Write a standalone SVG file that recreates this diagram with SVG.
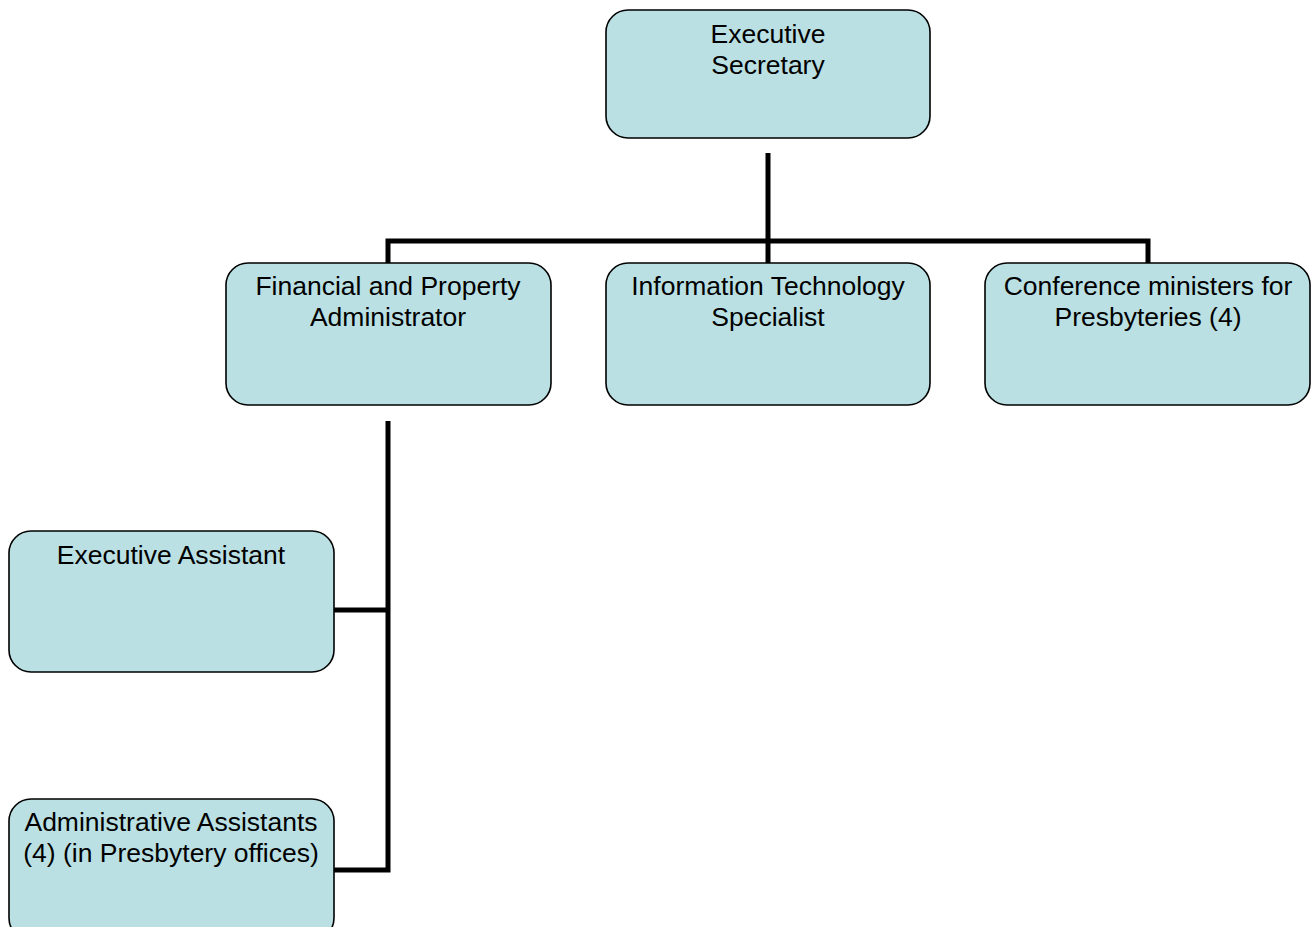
<svg xmlns="http://www.w3.org/2000/svg" width="1316" height="927" viewBox="0 0 1316 927">
<style>
.box{fill:#bae0e3;stroke:#000;stroke-width:1.6}
.t{font-family:"Liberation Sans",Arial,sans-serif;font-size:26.5px;fill:#000;text-anchor:middle}
.c{fill:none;stroke:#000;stroke-width:5;stroke-linecap:butt;stroke-linejoin:miter}
</style>
<rect width="1316" height="927" fill="#fff"/>
<g id="connectors">
<path class="c" d="M768 153V263"/>
<path class="c" d="M388 263V241H1148V263"/>
<path class="c" d="M388 421V870H334"/>
<path class="c" d="M334 610H388"/>
</g>
<g id="executive-secretary">
<rect class="box" x="606" y="10" width="324" height="128" rx="22"/>
<text class="t" x="768" y="43">Executive</text>
<text class="t" x="768" y="74">Secretary</text>
</g>
<g id="financial-property">
<rect class="box" x="226" y="263" width="325" height="142" rx="22"/>
<text class="t" x="388" y="295">Financial and Property</text>
<text class="t" x="388" y="326">Administrator</text>
</g>
<g id="it-specialist">
<rect class="box" x="606" y="263" width="324" height="142" rx="22"/>
<text class="t" x="768" y="295">Information Technology</text>
<text class="t" x="768" y="326">Specialist</text>
</g>
<g id="conference-ministers">
<rect class="box" x="985" y="263" width="325" height="142" rx="22"/>
<text class="t" x="1148" y="295">Conference ministers for</text>
<text class="t" x="1148" y="326">Presbyteries (4)</text>
</g>
<g id="executive-assistant">
<rect class="box" x="9" y="531" width="325" height="141" rx="22"/>
<text class="t" x="171" y="564">Executive Assistant</text>
</g>
<g id="administrative-assistants">
<rect class="box" x="9" y="799" width="325" height="141" rx="22"/>
<text class="t" x="171" y="831">Administrative Assistants</text>
<text class="t" x="171" y="862">(4) (in Presbytery offices)</text>
</g>
</svg>
